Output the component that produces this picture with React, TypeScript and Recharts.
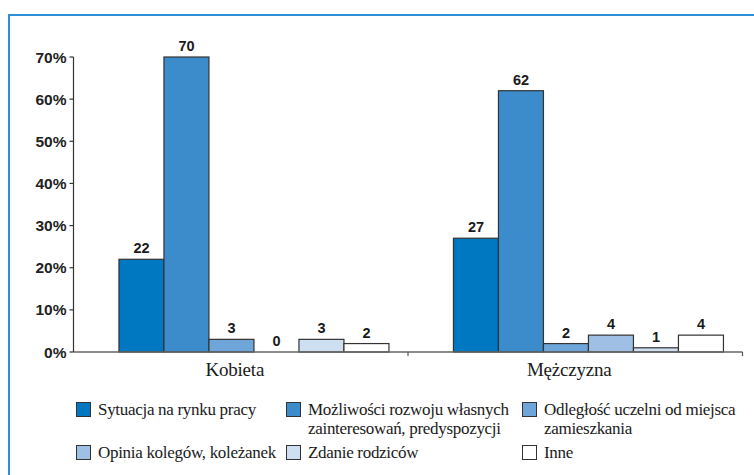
import { BarChart, Bar, XAxis, YAxis, LabelList } from 'recharts'

const categories = ['Kobieta', 'Mężczyzna']
const seriesNames = [
  'Sytuacja na rynku pracy',
  'Możliwości rozwoju własnych zainteresowań, predyspozycji',
  'Odległość uczelni od miejsca zamieszkania',
  'Opinia kolegów, koleżanek',
  'Zdanie rodziców',
  'Inne',
]
const kobietaValues = [22, 70, 3, 0, 3, 2]
const mezczyznaValues = [27, 62, 2, 4, 1, 4]
const yTicks = [0, 10, 20, 30, 40, 50, 60, 70]

const colors = ['#0077c1', '#3c8bcb', '#6ea6d9', '#9fc0e4', '#cfdff2', '#ffffff']
const seriesKeys = ['s0', 's1', 's2', 's3', 's4', 's5']

const data = categories.map((name, i) => {
  const values = i === 0 ? kobietaValues : mezczyznaValues
  const row: Record<string, string | number> = { name }
  seriesKeys.forEach((k, j) => {
    row[k] = values[j]
  })
  return row
})

const SERIF = "'Liberation Serif', 'DejaVu Serif', serif"
const SANS = "'Liberation Sans', 'DejaVu Sans', sans-serif"

const CHART_W = 754
const CHART_H = 395
const PLOT_LEFT = 73.5
const PLOT_RIGHT = 11.5
const BAND = (CHART_W - PLOT_LEFT - PLOT_RIGHT) / categories.length
// bars in the original sit a little right of the category centre
const SHIFT = 12

const ShiftedBar = (p: any) => {
  if (!p.height || p.height <= 0) return null
  return (
    <rect
      x={p.x + SHIFT}
      y={p.y}
      width={p.width}
      height={p.height}
      fill={p.fill}
      stroke="#333"
      strokeWidth={1.2}
    />
  )
}

const renderValue = (p: any) => (
  <text
    x={p.x + p.width / 2 + SHIFT}
    y={p.y - 6}
    textAnchor="middle"
    style={{ fontFamily: SANS, fontWeight: 700, fontSize: 14.5, fill: '#1a1a1a' }}
  >
    {p.value}
  </text>
)

const CategoryTick = ({ x, y, payload }: any) => (
  <g>
    <line x1={x + BAND / 2} y1={y} x2={x + BAND / 2} y2={y + 4} stroke="#555" strokeWidth={1.2} />
    <text
      x={x - 6}
      y={y + 24}
      textAnchor="middle"
      style={{ fontFamily: SERIF, fontSize: 19, letterSpacing: -0.2, fill: '#1a1a1a' }}
    >
      {payload.value}
    </text>
  </g>
)

function LegendBox() {
  return (
    <div
      style={{
        position: 'absolute',
        left: 76,
        top: 400,
        display: 'grid',
        gridTemplateColumns: '210px 236px 225px',
        rowGap: 5,
        fontFamily: SERIF,
        fontSize: 17,
        letterSpacing: -0.3,
        lineHeight: '19px',
        color: '#1a1a1a',
      }}
    >
      {seriesNames.map((name, i) => (
        <div key={name} style={{ display: 'flex', alignItems: 'flex-start' }}>
          <span
            style={{
              flex: '0 0 auto',
              width: 13,
              height: 13,
              marginTop: 2,
              marginRight: 7,
              background: colors[i],
              border: '1.2px solid #333',
            }}
          />
          <span style={{ maxWidth: i === 1 ? 212 : i === 2 ? 205 : 200 }}>{name}</span>
        </div>
      ))}
    </div>
  )
}

export default function App() {
  return (
    <div
      style={{
        position: 'fixed',
        left: 0,
        top: 0,
        width: 754,
        height: 475,
        background: '#fff',
        overflow: 'hidden',
      }}
    >
      <div
        style={{
          position: 'absolute',
          left: 8,
          top: 14,
          right: -10,
          bottom: -10,
          borderLeft: '2px solid #2d8fd5',
          borderTop: '2px solid #2d8fd5',
        }}
      />
      <div style={{ position: 'absolute', left: 0, top: 0 }}>
        <BarChart
          width={CHART_W}
          height={CHART_H}
          data={data}
          margin={{ top: 57, right: PLOT_RIGHT, left: 0, bottom: 0 }}
          barCategoryGap="10%"
          barGap={0}
        >
          <XAxis
            dataKey="name"
            height={43}
            axisLine={{ stroke: '#666', strokeWidth: 1.5 }}
            tickLine={false}
            tickSize={0}
            tickMargin={0}
            tick={<CategoryTick />}
            interval={0}
          />
          <YAxis
            width={PLOT_LEFT}
            domain={[0, 70]}
            ticks={yTicks}
            interval={0}
            tickFormatter={(v) => `${v}%`}
            axisLine={{ stroke: '#333', strokeWidth: 1.2 }}
            tickLine={{ stroke: '#333', strokeWidth: 1.2 }}
            tickSize={4}
            tickMargin={3}
            tick={{ fontFamily: SANS, fontWeight: 700, fontSize: 15.5, fill: '#222' }}
          />
          {seriesKeys.map((k, i) => (
            <Bar
              key={k}
              dataKey={k}
              name={seriesNames[i]}
              fill={colors[i]}
              shape={<ShiftedBar />}
              isAnimationActive={false}
            >
              <LabelList dataKey={k} content={renderValue} />
            </Bar>
          ))}
        </BarChart>
      </div>
      <LegendBox />
    </div>
  )
}
